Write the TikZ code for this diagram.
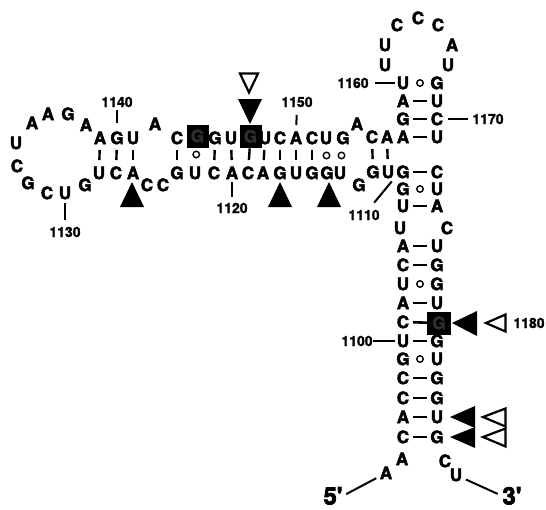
\documentclass[tikz,border=0pt]{standalone}
\usepackage{fontspec}
\setmainfont{TeX Gyre Heros}[Ligatures=TeXOff]
\newfontfamily\basefont{TeX Gyre Heros}[Ligatures=TeXOff, BoldFeatures={FakeBold=3}]
\newfontfamily\numfont{TeX Gyre Heros}[Ligatures=TeXOff, BoldFeatures={FakeBold=1.5}]
\begin{document}
\begin{tikzpicture}[x=1pt,y=-1pt,
  nt/.style={font=\fontsize{17}{17}\basefont\bfseries, inner sep=0pt,
    minimum width=12pt, minimum height=12pt, text height=12.2pt, text depth=0pt},
  boxnt/.style={nt, fill=black, text=black!82, minimum width=22pt, minimum height=23pt},
  num/.style={font=\fontsize{14}{14}\numfont\bfseries, inner sep=0pt,
    text height=10pt, text depth=0pt},
  endlab/.style={font=\fontsize{24}{24}\basefont\bfseries, inner sep=0pt,
    text height=17pt, text depth=0pt},
  bph/.style={line width=2.6pt, shorten <=10pt, shorten >=10pt},
  bpv/.style={line width=2.4pt, shorten <=12pt, shorten >=13pt},
  wob/.style={draw, circle, line width=1.4pt, minimum size=6.5pt, inner sep=0pt},
  lead/.style={line width=2pt},
  hit/.style={fill=black},
  openhit/.style={draw, line width=2.2pt, line join=miter}]
\useasboundingbox (0,0) rectangle (546,509);

% nucleotides: number / x / y / base
\foreach \n/\x/\y/\b in {
  1093/386/473/A, 1094/402/459/A, 1095/403/437/C, 1096/403/417/A,
  1097/403/398/C, 1098/403/378/C, 1099/403/359/G, 1100/403/341/U,
  1102/403/303/A, 1103/403/284/U, 1104/403/265/C,
  1105/403/246/A, 1106/400/228/U, 1107/403/206/U, 1108/403/189/G,
  1109/403/172/G, 1110/388/172/U, 1111/373/172/G, 1112/359/185/G,
  1113/340/173/U, 1114/327/173/G, 1115/312/173/G, 1116/296/173/U,
  1117/280/173/G, 1118/263/173/A, 1119/248/173/C, 1120/232/173/A,
  1121/214/173/C, 1122/195/173/U, 1123/177/173/G, 1124/163/185/C,
  1125/147/185/C, 1126/133/173/A, 1127/116/173/C, 1128/99/173/U,
  1129/85/185/G, 1130/65/193/U, 1131/47/193/C, 1132/28/183/G,
  1133/17/166/C, 1134/16/143/U, 1135/32/123/A, 1136/48/114/A,
  1137/68/114/G, 1138/86/125/A, 1139/100/138/A, 1140/117/138/G,
  1141/133/138/U, 1142/155/124/A, 1143/177/138/C, 1145/215/138/G,
  1146/231/138/U, 1148/265/138/U, 1149/280/138/C,
  1150/296/138/A, 1151/312/138/C, 1152/326/138/U, 1153/343/138/G,
  1154/357/124/A, 1155/372/137/C, 1156/387/137/A, 1157/403/137/A,
  1158/403/119/G, 1159/403/101/A, 1160/403/83/U, 1161/385/65/U,
  1162/385/45/U, 1163/397/25/C, 1164/418/18/C, 1165/438/25/C,
  1166/452/45/A, 1167/448/65/U, 1168/437/83/G, 1169/437/101/U,
  1170/437/119/C, 1171/437/137/U, 1172/437/172/C, 1173/437/189/U,
  1174/437/206/A, 1175/447/228/C, 1176/437/246/U, 1177/437/265/G,
  1178/437/284/G, 1179/437/303/U, 1181/437/341/G,
  1182/437/359/U, 1183/437/378/G, 1184/437/398/G, 1185/437/417/U,
  1186/437/437/G, 1187/445/461/C, 1188/456/475/U}
  \node[nt] (n\n) at (\x,\y) {\b};
\node[nt] (n1101) at (403,322) {C};

% boxed positions
\node[boxnt] (n1144) at (197.5,136) {G};
\node[boxnt] (n1147) at (250.5,136.5) {G};
\node[boxnt, minimum width=24pt] (n1180) at (439,323) {G};

% Watson-Crick pairs in the vertical stems
\foreach \a/\b in {1157/1171, 1158/1170, 1159/1169, 1109/1172, 1107/1174,
  1105/1176, 1104/1177, 1102/1179, 1101/1180, 1100/1181, 1098/1183,
  1097/1184, 1096/1185, 1095/1186}
  \draw[bph] (n\a.center) -- (n\b.center);

% pairs in the horizontal helix
\foreach \a/\b in {1139/1128, 1140/1127, 1141/1126, 1143/1123, 1145/1121,
  1146/1120, 1147/1119, 1148/1118, 1149/1117, 1150/1116, 1151/1115,
  1155/1111, 1156/1110}
  \draw[bpv] (n\a.center) -- (n\b.center);

% G.U wobble pairs
\foreach \a/\b in {1160/1168, 1108/1173, 1103/1178, 1099/1182,
  1144/1122, 1152/1114, 1153/1113}
  \path (n\a.center) -- (n\b.center) node[wob, midway] {};

% numbering
\node[num] (l1140) at (117,102) {1140};
\node[num] (l1150) at (297,102) {1150};
\node[num] (l1130) at (65,232) {1130};
\node[num] (l1120) at (232,208) {1120};
\node[num] (l1160) at (353,83) {1160};
\node[num] (l1170) at (488,119) {1170};
\node[num] (l1100) at (357,341) {1100};
\node[num] (l1110) at (364,215) {1110};
\node[num] (l1180) at (529,323) {1180};
\draw[lead, shorten <=15pt, shorten >=8pt] (n1140.center) -- (l1140.center);
\draw[lead, shorten <=13pt, shorten >=13pt] (n1150.center) -- (l1150.center);
\draw[lead, shorten <=10pt, shorten >=12pt] (n1130.center) -- (l1130.center);
\draw[lead, shorten <=9pt, shorten >=11pt] (n1120.center) -- (l1120.center);
\draw[lead, shorten <=8pt, shorten >=22pt] (n1160.center) -- (l1160.center);
\draw[lead, shorten <=11pt, shorten >=20pt] (n1170.center) -- (l1170.center);
\draw[lead, shorten <=8pt, shorten >=16pt] (n1100.center) -- (l1100.center);
\draw[lead, shorten <=16pt, shorten >=4pt] (l1110.center) -- (n1110.south east);

% chain ends
\node[endlab] (l5) at (333,496) {5'};
\node[endlab] (l3) at (512,496) {3'};
\draw[lead, shorten <=4pt, shorten >=11pt] (l5.east) -- (n1093.center);
\draw[lead, shorten <=11pt, shorten >=5pt] (n1188.center) -- (l3.west);

% cleavage marks: filled and open triangles
\fill[hit] (132,182) -- (120,207) -- (144,207) -- cycle;
\fill[hit] (280,182) -- (268,207) -- (292,207) -- cycle;
\fill[hit] (329,182) -- (317,207) -- (341,207) -- cycle;
\fill[hit] (250,124) -- (238,99) -- (262,99) -- cycle;
\path[openhit] (240,73.5) -- (258,73.5) -- (249,92.5) -- cycle;
\fill[hit] (452,323) -- (477,311) -- (477,336) -- cycle;
\path[openhit] (486,323) -- (505.5,314.5) -- (505.5,331.5) -- cycle;
\fill[hit] (450,417) -- (475,406) -- (475,428) -- cycle;
\fill[hit] (450,437) -- (475,427) -- (475,448) -- cycle;
\path[openhit] (483,417) -- (505.5,408.5) -- (505.5,426.5) -- cycle;
\path[openhit] (483,437) -- (505.5,428.5) -- (505.5,446.5) -- cycle;
\end{tikzpicture}
\end{document}
